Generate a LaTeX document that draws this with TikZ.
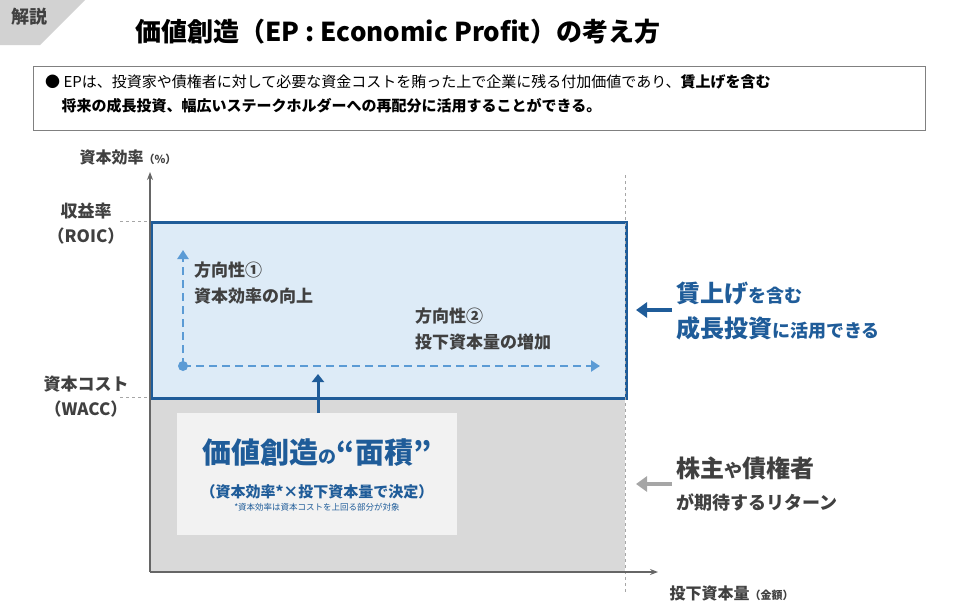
\documentclass[tikz,border=0pt]{standalone}
\usepackage{fontspec}
\setmainfont{Noto Sans CJK JP}
\usetikzlibrary{arrows.meta}
\definecolor{dblue}{HTML}{1F5C99}
\definecolor{lblue}{HTML}{DDEBF7}
\definecolor{mblue}{HTML}{5B9BD5}
\definecolor{gtxt}{HTML}{404040}
\begin{document}
\begin{tikzpicture}[x=1pt,y=-1pt,
 lab/.style={font=\bfseries\fontsize{16}{18}\selectfont,text=gtxt,align=center},
 dgray/.style={gray!70,dashed,line width=1pt}]
\useasboundingbox (0,0) rectangle (953,613);
\fill[gray!35] (0,0) -- (85,0) -- (40,45) -- (0,45) -- cycle;
\node[font=\bfseries\fontsize{18}{20}\selectfont,text=gtxt] (badge) at (30,17) {解説};
\node[font=\bfseries\fontsize{26}{30}\selectfont] (title) at (398,32) {価値創造（EP : Economic Profit）の考え方};
\node[draw=gray,line width=1pt,minimum width=892,minimum height=64,anchor=north west] (box) at (33,66) {};
\node[anchor=north west,align=left,font=\fontsize{15}{24}\selectfont,inner sep=0pt] (boxt) at (45,74)
 {● EPは、投資家や債権者に対して必要な資金コストを賄った上で企業に残る付加価値であり、\textbf{賃上げを含む}\\
 \hspace{1.1em}\textbf{将来の成長投資、幅広いステークホルダーへの再配分に活用することができる。}};
% regions
\fill[gray!30] (150,397) rectangle (625,572);
\node[draw=dblue,fill=lblue,line width=2.5pt,minimum width=475,minimum height=176,anchor=north west] (roic) at (150,221) {};
\node[fill=gray!10,minimum width=280,minimum height=122,anchor=north west] (area) at (177,413) {};
% dashed guides
\coordinate (g1a) at (120,221); \coordinate (g1b) at (150,221);
\coordinate (g2a) at (120,397); \coordinate (g2b) at (150,397);
\coordinate (vt) at (625,175); \coordinate (vb) at (625,592);
\draw[dgray] (g1a) -- (g1b); \draw[dgray] (g2a) -- (g2b);
\draw[dgray] (vt) -- (vb);
% axes
\coordinate (o) at (150,572); \coordinate (ytop) at (150,172); \coordinate (xend) at (658,572);
\draw[gray!80!black,line width=1.2pt,-{Stealth[length=8pt]}] (o) -- (ytop);
\draw[gray!80!black,line width=1.2pt,-{Stealth[length=8pt]}] (o) -- (xend);
\node[lab,anchor=west] (yl) at (76,157) {資本効率{\fontsize{11}{12}\selectfont（\%）}};
\node[lab,anchor=west] (xl) at (666,593) {投下資本量{\fontsize{11}{12}\selectfont（金額）}};
\node[lab,font=\bfseries\fontsize{17}{25}\selectfont] (roicl) at (86,224) {収益率\\（ROIC）};
\node[lab,font=\bfseries\fontsize{17}{25}\selectfont] (waccl) at (86,397) {資本コスト\\（WACC）};
% dashed arrows
\coordinate (d0) at (183,366); \coordinate (dup) at (183,250); \coordinate (dr) at (600,366);
\draw[mblue,line width=2.5pt,dash pattern=on 8pt off 5pt,-{Triangle[length=9pt,width=11pt]}] (d0) -- (dup);
\draw[mblue,line width=2.5pt,dash pattern=on 8pt off 5pt,-{Triangle[length=9pt,width=11pt]}] (d0) -- (dr);
\fill[mblue] (d0) circle (5);
\node[lab,align=left,anchor=north west,inner sep=0pt,font=\bfseries\fontsize{17}{26}\selectfont] (dir1) at (194,262) {方向性①\\資本効率の向上};
\node[lab,align=left,anchor=north west,inner sep=0pt,font=\bfseries\fontsize{17}{26}\selectfont] (dir2) at (415,308) {方向性②\\投下資本量の増加};
% area text
\node[text=dblue,font=\bfseries\fontsize{29}{33}\selectfont] (a1) at (317,453) {価値創造{\fontsize{18}{20}\selectfont の}“面積”};
\node[text=dblue,font=\bfseries\fontsize{15}{17}\selectfont] (a2) at (317,492) {（資本効率*×投下資本量で決定）};
\node[text=dblue,font=\fontsize{8.5}{10}\selectfont] (a3) at (317,507) {*資本効率は資本コストを上回る部分が対象};
\coordinate (upb) at (318,413); \coordinate (upt) at (318,374);
\draw[dblue,line width=3pt,-{Triangle[length=8pt,width=12pt]}] (upb) -- (upt);
% right side
\coordinate (r1a) at (672,310); \coordinate (r1b) at (636,310);
\draw[dblue,line width=4pt,-{Triangle[length=11pt,width=15pt]}] (r1a) -- (r1b);
\node[text=dblue,align=left,anchor=west,inner sep=0pt,font=\bfseries\fontsize{24}{35}\selectfont] (rt1) at (676,311)
 {賃上げ{\fontsize{18}{20}\selectfont を含む}\\成長投資{\fontsize{18}{20}\selectfont に活用できる}};
\coordinate (r2a) at (672,484); \coordinate (r2b) at (636,484);
\draw[gray!70,line width=4pt,-{Triangle[length=11pt,width=15pt]}] (r2a) -- (r2b);
\node[text=gtxt,align=left,anchor=west,inner sep=0pt,font=\bfseries\fontsize{24}{32}\selectfont] (rt2) at (676,484)
 {株主{\fontsize{18}{20}\selectfont や}債権者\\{\fontsize{18}{20}\selectfont が期待するリターン}};
\end{tikzpicture}
\end{document}
